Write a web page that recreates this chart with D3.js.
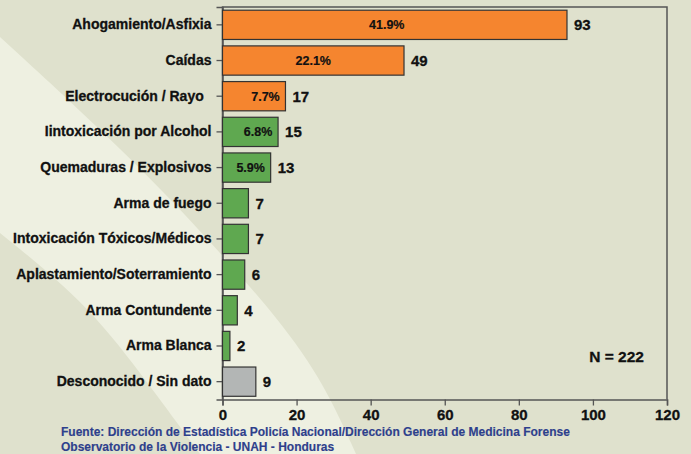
<!DOCTYPE html>
<html>
<head>
<meta charset="utf-8">
<script src="https://cdn.jsdelivr.net/npm/d3@7"></script>
<style>
  body { margin: 0; background: #dfe1cd; }
  svg { display: block; font-family: "Liberation Sans", Arial, sans-serif; font-weight: bold; }
  svg text { stroke: currentColor; stroke-width: 0.3px; }
</style>
</head>
<body>
<div id="viz"></div>
<script>
// data
var categories = ["Ahogamiento/Asfixia", "Caídas", "Electrocución / Rayo ", "Iintoxicación por Alcohol",
  "Quemaduras / Explosivos", "Arma de fuego", "Intoxicación Tóxicos/Médicos",
  "Aplastamiento/Soterramiento", "Arma Contundente", "Arma Blanca", "Desconocido / Sin dato"];
var counts = [93, 49, 17, 15, 13, 7, 7, 6, 4, 2, 9];
var percents = ["41.9%", "22.1%", "7.7%", "6.8%", "5.9%", "", "", "", "", "", ""];
var groups = ["top", "top", "top", "mid", "mid", "mid", "mid", "mid", "mid", "mid", "none"];
var xTicks = [0, 20, 40, 60, 80, 100, 120];
var total = "N = 222";
var sourceLines = ["Fuente: Dirección de Estadística Policía Nacional/Dirección General de Medicina Forense",
  "Observatorio de la Violencia - UNAH - Honduras"];

var colors = {top: "#f5852f", mid: "#5fa850", none: "#b3b6b5"};

var width = 691, height = 454;
var svg = d3.select('#viz').append('svg')
  .attr('width', width)
  .attr('height', height);

// background with the lighter diagonal band
svg.append('rect').attr('width', width).attr('height', height).attr('fill', '#dfe1cd');
var band = d3.line().curve(d3.curveBasis);
var upper = [[0, 37], [123, 150], [200, 230], [280, 320], [325, 385], [356, 454]];
var lower = [[200, 454], [140, 372], [83, 300], [0, 233]];
svg.append('path')
  .attr('d', band(upper) + 'L' + band(lower).slice(1) + 'Z')
  .attr('fill', '#eef0e1');

var plotLeft = 222.5, plotRight = 667, plotTop = 7, plotBottom = 399.5;

var x = d3.scaleLinear().domain([0, 120]).range([plotLeft, plotRight]);
var y = d3.scaleBand().domain(categories).range([plotTop, plotBottom])
  .paddingInner(0.18).paddingOuter(0.09);

var chart = svg.append('g').attr('id', 'chart');

// frame
chart.append('path')
  .attr('d', 'M' + plotLeft + ',' + plotBottom + 'V' + plotTop + 'H' + plotRight + 'V' + plotBottom)
  .attr('fill', 'none')
  .attr('stroke', '#555')
  .attr('stroke-width', 1.5);

// axes
var xAxis = chart.append('g')
  .attr('transform', 'translate(0,' + plotBottom + ')')
  .call(d3.axisBottom(x).tickValues(xTicks).tickSize(6).tickPadding(4));
var yAxis = chart.append('g')
  .attr('transform', 'translate(' + plotLeft + ',0)')
  .call(d3.axisLeft(y).tickSize(6).tickPadding(5)
    .tickFormat(function(d) { return d.replace(/ $/, '\u00a0\u00a0'); }));

[xAxis, yAxis].forEach(function(a) {
  a.attr('font-family', null).attr('font-size', null);
  a.select('.domain').attr('stroke', '#555').attr('stroke-width', 1.5);
  a.selectAll('.tick line').attr('stroke', '#555').attr('stroke-width', 1.3);
  a.selectAll('text').attr('fill', '#111').style('color', '#111');
});
xAxis.selectAll('text').attr('font-size', '15px');
yAxis.selectAll('text').attr('font-size', '14px');

// bars
chart.selectAll('.bar')
  .data(counts)
  .enter().append('rect')
  .attr('class', 'bar')
  .attr('x', x(0))
  .attr('y', function(d, i) { return y(categories[i]); })
  .attr('width', function(d) { return x(d) - x(0); })
  .attr('height', y.bandwidth())
  .attr('fill', function(d, i) { return colors[groups[i]]; })
  .attr('stroke', '#333')
  .attr('stroke-width', 1.2);

// count labels
chart.selectAll('.count')
  .data(counts)
  .enter().append('text')
  .attr('class', 'count')
  .attr('x', function(d) { return x(d) + 7; })
  .attr('y', function(d, i) { return y(categories[i]) + y.bandwidth() / 2; })
  .attr('dy', '0.36em')
  .attr('font-size', '15px')
  .attr('fill', '#111')
  .style('color', '#111')
  .text(function(d) { return d; });

// percent labels inside bars (short bars: pushed toward the end)
chart.selectAll('.pct')
  .data(percents)
  .enter().append('text')
  .attr('class', 'pct')
  .attr('x', function(d, i) {
    var w = x(counts[i]) - x(0);
    return w > 80 ? x(0) + w / 2 - (w > 300 ? 8 : 0) : x(counts[i]) - 20;
  })
  .attr('y', function(d, i) { return y(categories[i]) + y.bandwidth() / 2; })
  .attr('dy', '0.35em')
  .attr('text-anchor', 'middle')
  .attr('font-size', '12.5px')
  .attr('fill', '#111')
  .style('color', '#111')
  .style('stroke-width', '0.2px')
  .text(function(d) { return d; });

// total
chart.append('text')
  .attr('x', 644)
  .attr('y', 362)
  .attr('text-anchor', 'end')
  .attr('font-size', '15.5px')
  .attr('fill', '#111')
  .style('color', '#111')
  .text(total);

// source
svg.selectAll('.source')
  .data(sourceLines)
  .enter().append('text')
  .attr('class', 'source')
  .attr('x', 61)
  .attr('y', function(d, i) { return 436 + i * 14.5; })
  .attr('font-size', '12px')
  .attr('fill', '#2e3f8c')
  .style('color', '#2e3f8c')
  .style('stroke-width', '0.15px')
  .text(function(d) { return d; });
</script>
</body>
</html>
